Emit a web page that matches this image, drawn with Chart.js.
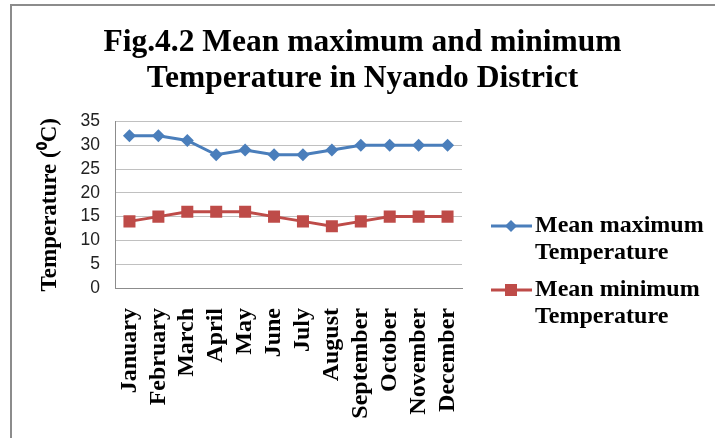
<!DOCTYPE html>
<html>
<head>
<meta charset="utf-8">
<script src="https://cdn.jsdelivr.net/npm/chart.js@4.4.1/dist/chart.umd.min.js"></script>
<style>
  html, body { margin: 0; padding: 0; background: #fff; }
  #wrap { width: 715px; height: 438px; position: relative; }
</style>
</head>
<body>
<div id="wrap"><canvas id="c" width="715" height="438"></canvas></div>
<script>
const TITLE_LINES = ["Fig.4.2 Mean maximum and minimum", "Temperature in Nyando District"];
const Y_TITLE = "Temperature (\u2070C)";
const MONTHS = ["January", "February", "March", "April", "May", "June", "July", "August", "September", "October", "November", "December"];
const SERIES_NAMES = ["Mean maximum Temperature", "Mean minimum Temperature"];
const MEAN_MAX = [32, 32, 31, 28, 29, 28, 28, 29, 30, 30, 30, 30];
const MEAN_MIN = [14, 15, 16, 16, 16, 15, 14, 13, 14, 15, 15, 15];
const Y_MIN = 0, Y_MAX = 35, Y_STEP = 5;

const SERIF = "'Liberation Serif', 'Times New Roman', serif";
const BLUE = '#4a7ebb';
const RED = '#be4b48';

const framePlugin = {
  id: 'frame',
  beforeDraw(chart) {
    const ctx = chart.ctx;
    ctx.save();
    ctx.fillStyle = '#fff';
    ctx.fillRect(0, 0, chart.width, chart.height);
    ctx.strokeStyle = '#8c8c8c';
    ctx.lineWidth = 2;
    ctx.beginPath();
    ctx.moveTo(11, chart.height);
    ctx.lineTo(11, 5);
    ctx.lineTo(chart.width, 5);
    ctx.stroke();
    ctx.restore();
  }
};

const sideLegend = {
  id: 'sideLegend',
  afterDraw(chart) {
    const ctx = chart.ctx;
    const startY = [226, 290];
    ctx.save();
    ctx.font = "bold 24px " + SERIF;
    ctx.textBaseline = 'middle';
    ctx.textAlign = 'left';
    chart.data.datasets.forEach((ds, i) => {
      const y = startY[i];
      ctx.strokeStyle = ds.borderColor;
      ctx.lineWidth = 3;
      ctx.beginPath();
      ctx.moveTo(491, y);
      ctx.lineTo(532, y);
      ctx.stroke();
      ctx.fillStyle = ds.pointBackgroundColor;
      ctx.beginPath();
      if (ds.pointStyle === 'rectRot') {
        const r = 6;
        ctx.moveTo(511 - r, y); ctx.lineTo(511, y - r); ctx.lineTo(511 + r, y); ctx.lineTo(511, y + r);
        ctx.closePath();
      } else {
        ctx.rect(511 - 6, y - 6, 12, 12);
      }
      ctx.fill();
      const words = ds.label.split(' ');
      const lines = [];
      let cur = '';
      words.forEach(w => {
        const t = cur ? cur + ' ' + w : w;
        if (ctx.measureText(t).width > 175 && cur) { lines.push(cur); cur = w; }
        else cur = t;
      });
      if (cur) lines.push(cur);
      ctx.fillStyle = '#000';
      lines.forEach((ln, k) => ctx.fillText(ln, 535, y + k * 27));
    });
    ctx.restore();
  }
};

new Chart(document.getElementById('c'), {
  type: 'line',
  data: {
    labels: MONTHS,
    datasets: [
      {
        label: SERIES_NAMES[0],
        data: MEAN_MAX,
        borderColor: BLUE,
        backgroundColor: BLUE,
        pointBackgroundColor: BLUE,
        pointBorderColor: BLUE,
        borderWidth: 3,
        pointStyle: 'rectRot',
        pointRadius: 6.5,
        pointBorderWidth: 0,
        tension: 0
      },
      {
        label: SERIES_NAMES[1],
        data: MEAN_MIN,
        borderColor: RED,
        backgroundColor: RED,
        pointBackgroundColor: RED,
        pointBorderColor: RED,
        borderWidth: 3,
        pointStyle: 'rect',
        pointRadius: 8.5,
        pointBorderWidth: 0,
        tension: 0
      }
    ]
  },
  options: {
    responsive: false,
    animation: false,
    events: [],
    layout: { padding: { left: 10, right: 0, top: 7, bottom: 0 } },
    plugins: {
      legend: { display: false },
      tooltip: { enabled: false },
      title: {
        display: true,
        text: TITLE_LINES,
        color: '#000',
        font: { family: SERIF, size: 31.5, weight: 'bold', lineHeight: 1.15 },
        padding: { top: 18, bottom: 24 }
      }
    },
    scales: {
      x: {
        offset: true,
        grid: { display: false, drawTicks: false },
        border: { display: true, color: '#8c8c8c', width: 1 },
        ticks: {
          autoSkip: false,
          maxRotation: 90,
          minRotation: 90,
          padding: 20,
          color: '#000',
          font: { family: SERIF, size: 24, weight: 'bold' }
        },
        afterFit(scale) { scale.height = 150; }
      },
      y: {
        min: Y_MIN,
        max: Y_MAX,
        grid: { color: '#c0c0c0', lineWidth: 1, drawTicks: false },
        border: { display: true, color: '#8c8c8c', width: 1 },
        ticks: {
          stepSize: Y_STEP,
          autoSkip: false,
          padding: 15,
          color: '#222',
          font: { family: "'Liberation Sans', Arial, sans-serif", size: 17.5 }
        },
        title: {
          display: true,
          text: Y_TITLE,
          color: '#000',
          font: { family: SERIF, size: 23, weight: 'bold' },
          padding: { top: 26, bottom: 0 }
        },
        afterFit(scale) { scale.width = 105; }
      },
      yRight: {
        position: 'right',
        display: true,
        grid: { display: false, drawTicks: false },
        border: { display: false },
        ticks: { display: false },
        afterFit(scale) { scale.width = 253; }
      }
    }
  },
  plugins: [framePlugin, sideLegend]
});
</script>
</body>
</html>
